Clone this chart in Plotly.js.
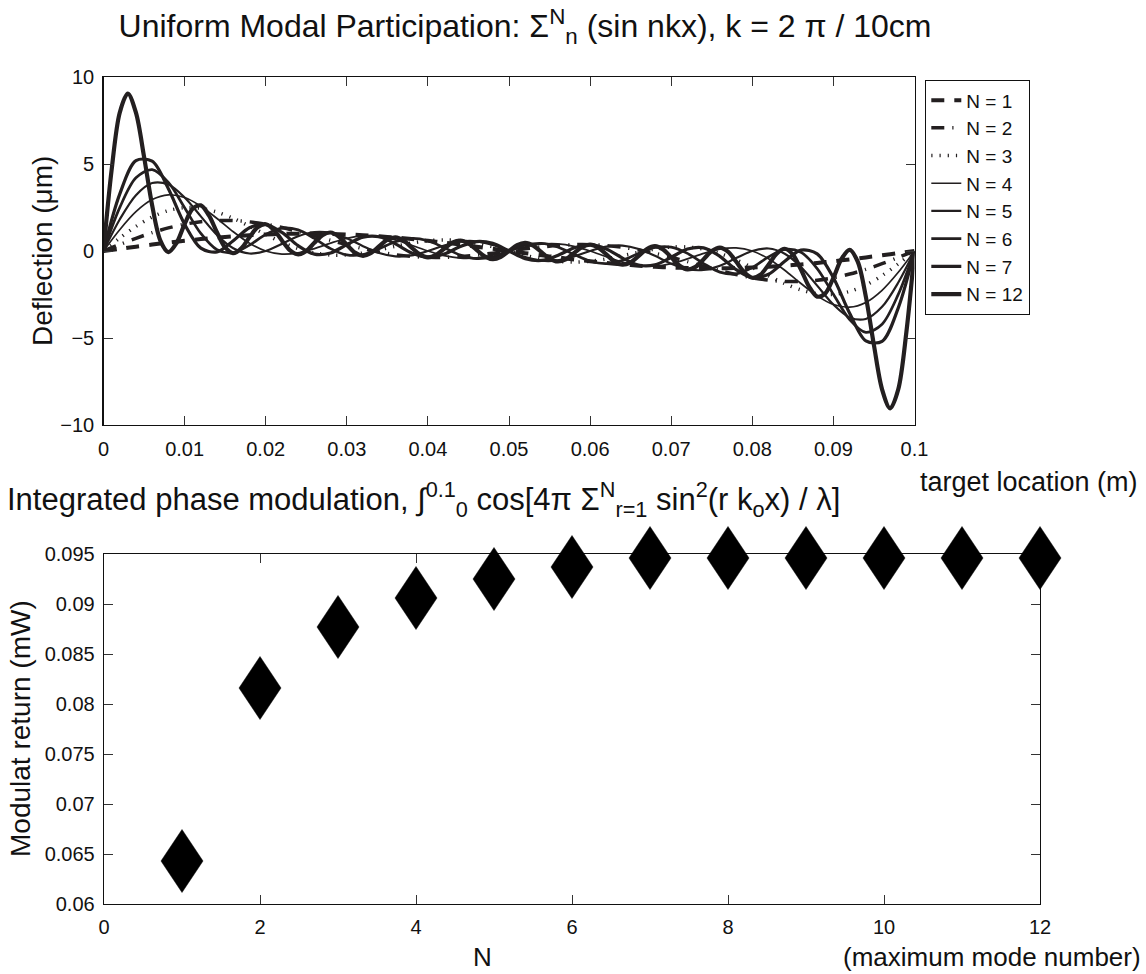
<!DOCTYPE html>
<html>
<head>
<meta charset="utf-8">
<script src="https://cdn.plot.ly/plotly-3.0.1.min.js"></script>
<style>html,body{margin:0;padding:0;background:#fff;}#chart{width:1146px;height:974px;}</style>
</head>
<body>
<div id="chart"></div>
<script>
// ---------- DATA ----------
const xFine = [0,0.001,0.002,0.003,0.004,0.005,0.006,0.007,0.008,0.009,0.01,0.011,0.012,0.013,0.014,0.015,0.016,0.017,0.018,0.019,0.02,0.021,0.022,0.023,0.024,0.025,0.026,0.027,0.028,0.029,0.03,0.031,0.032,0.033,0.034,0.035,0.036,0.037,0.038,0.039,0.04,0.041,0.042,0.043,0.044,0.045,0.046,0.047,0.048,0.049,0.05,0.051,0.052,0.053,0.054,0.055,0.056,0.057,0.058,0.059,0.06,0.061,0.062,0.063,0.064,0.065,0.066,0.067,0.068,0.069,0.07,0.071,0.072,0.073,0.074,0.075,0.076,0.077,0.078,0.079,0.08,0.081,0.082,0.083,0.084,0.085,0.086,0.087,0.088,0.089,0.09,0.091,0.092,0.093,0.094,0.095,0.096,0.097,0.098,0.099,0.1];
const xCoarse = [0,0.002,0.004,0.006,0.008,0.01,0.012,0.014,0.016,0.018,0.02,0.022,0.024,0.026,0.028,0.03,0.032,0.034,0.036,0.038,0.04,0.042,0.044,0.046,0.048,0.05,0.052,0.054,0.056,0.058,0.06,0.062,0.064,0.066,0.068,0.07,0.072,0.074,0.076,0.078,0.08,0.082,0.084,0.086,0.088,0.09,0.092,0.094,0.096,0.098,0.1];

const defN1 = [0,0.125,0.249,0.368,0.482,0.588,0.685,0.771,0.844,0.905,0.951,0.982,0.998,0.998,0.982,0.951,0.905,0.844,0.771,0.685,0.588,0.482,0.368,0.249,0.125,0,-0.125,-0.249,-0.368,-0.482,-0.588,-0.685,-0.771,-0.844,-0.905,-0.951,-0.982,-0.998,-0.998,-0.982,-0.951,-0.905,-0.844,-0.771,-0.685,-0.588,-0.482,-0.368,-0.249,-0.125,0];
const defN2 = [0,0.374,0.731,1.053,1.326,1.539,1.683,1.753,1.749,1.675,1.539,1.350,1.123,0.873,0.614,0.363,0.134,-0.061,-0.212,-0.314,-0.363,-0.363,-0.316,-0.233,-0.123,0,0.123,0.233,0.316,0.363,0.363,0.314,0.212,0.061,-0.134,-0.363,-0.614,-0.873,-1.123,-1.350,-1.539,-1.675,-1.749,-1.753,-1.683,-1.539,-1.326,-1.053,-0.731,-0.374,0];
const defN3 = [0,0.742,1.415,1.957,2.324,2.490,2.453,2.235,1.874,1.427,0.951,0.506,0.141,-0.110,-0.230,-0.225,-0.114,0.065,0.270,0.457,0.588,0.636,0.588,0.451,0.245,0,-0.245,-0.451,-0.588,-0.636,-0.588,-0.457,-0.270,-0.065,0.114,0.225,0.230,0.110,-0.141,-0.506,-0.951,-1.427,-1.874,-2.235,-2.453,-2.490,-2.324,-1.957,-1.415,-0.742,0];
const defN4 = [0,1.224,2.259,2.955,3.229,3.078,2.578,1.867,1.104,0.444,0,-0.178,-0.108,0.139,0.454,0.727,0.868,0.835,0.638,0.332,0,-0.269,-0.410,-0.393,-0.237,0,0.237,0.393,0.410,0.269,0,-0.332,-0.638,-0.835,-0.868,-0.727,-0.454,-0.139,0.108,0.178,0,-0.444,-1.104,-1.867,-2.578,-3.078,-3.229,-2.955,-2.259,-1.224,0];
const defN5 = [0,1.812,3.210,3.907,3.817,3.078,1.991,0.915,0.153,-0.144,0,0.409,0.843,1.090,1.042,0.727,0.280,-0.116,-0.313,-0.256,0,0.319,0.542,0.558,0.351,0,-0.351,-0.558,-0.542,-0.319,0,0.256,0.313,0.116,-0.280,-0.727,-1.042,-1.090,-0.843,-0.409,0,0.144,-0.153,-0.915,-1.991,-3.078,-3.817,-3.907,-3.210,-1.812,0];
const defN6 = [0,2.496,4.208,4.677,3.942,2.490,1.008,0.071,-0.096,0.338,0.951,1.314,1.212,0.722,0.137,-0.225,-0.202,0.133,0.531,0.726,0.588,0.193,-0.229,-0.440,-0.334,0,0.334,0.440,0.229,-0.193,-0.588,-0.726,-0.531,-0.133,0.202,0.225,-0.137,-0.722,-1.212,-1.314,-0.951,-0.338,0.096,-0.071,-1.008,-2.490,-3.942,-4.677,-4.208,-2.496,0];
const defN7 = [0,3.267,5.191,5.159,3.574,1.539,0.164,-0.054,0.589,1.336,1.539,1.066,0.307,-0.183,-0.111,0.363,0.796,0.817,0.406,-0.118,-0.363,-0.175,0.253,0.543,0.437,0,-0.437,-0.543,-0.253,0.175,0.363,0.118,-0.406,-0.817,-0.796,-0.363,0.111,0.183,-0.307,-1.066,-1.539,-1.336,-0.589,0.054,-0.164,-1.539,-3.574,-5.159,-5.191,-3.267,0];
const defN12 = [0,4.655,7.947,9.046,7.947,5.417,2.621,0.616,-0.063,0.454,1.539,2.433,2.621,2.046,1.063,0.203,-0.128,0.151,0.788,1.365,1.539,1.221,0.604,0.033,-0.198,0,0.470,0.912,1.063,0.835,0.363,-0.088,-0.275,-0.115,0.275,0.652,0.788,0.602,0.198,-0.196,-0.363,-0.223,0.128,0.474,0.604,0.437,0.063,-0.308,-0.470,-0.338,0,0.338,0.470,0.308,-0.063,-0.437,-0.604,-0.474,-0.128,0.223,0.363,0.196,-0.198,-0.602,-0.788,-0.652,-0.275,0.115,0.275,0.088,-0.363,-0.835,-1.063,-0.912,-0.470,0,0.198,-0.033,-0.604,-1.221,-1.539,-1.365,-0.788,-0.151,0.128,-0.203,-1.063,-2.046,-2.621,-2.433,-1.539,-0.454,0.063,-0.616,-2.621,-5.417,-7.947,-9.046,-7.947,-4.655,0];

const seriesNames = ['N = 1','N = 2','N = 3','N = 4','N = 5','N = 6','N = 7','N = 12'];

const modeN = [1,2,3,4,5,6,7,8,9,10,11,12];
const modReturn = [0.0643,0.0816,0.0877,0.0906,0.0925,0.0937,0.0946,0.0946,0.0946,0.0946,0.0946,0.0946];

const topXTickVals = [0,0.01,0.02,0.03,0.04,0.05,0.06,0.07,0.08,0.09,0.1];
const topXTickText = ['0','0.01','0.02','0.03','0.04','0.05','0.06','0.07','0.08','0.09','0.1'];
const topYTickVals = [-10,-5,0,5,10];
const topYTickText = ['\u221210','\u22125','0','5','10'];
const botXTickVals = [0,2,4,6,8,10,12];
const botXTickText = ['0','2','4','6','8','10','12'];
const botYTickVals = [0.06,0.065,0.07,0.075,0.08,0.085,0.09,0.095];
const botYTickText = ['0.06','0.065','0.07','0.075','0.08','0.085','0.09','0.095'];

// ---------- STYLE / LAYOUT ----------
const W = 1146, H = 974;
const fx = p => p / W;
const fy = p => 1 - p / H;
const INK = '#231f20';
const FONT = 'Liberation Sans, Arial, Helvetica, sans-serif';

const TOP = {l: 103.5, r: 914.5, t: 77, b: 425};
const BOT = {l: 104, r: 1040, t: 554, b: 904};
const topXRange = [0, 0.1], topYRange = [-10, 10];
const botXRange = [0, 12], botYRange = [0.06, 0.095];

const lineStyles = [
  {width: 4,   dash: '13px,10px'},
  {width: 3.5, dash: '13px,8px,1.2px,8px'},
  {width: 3.5, dash: '1.2px,7px'},
  {width: 1.7, dash: 'solid'},
  {width: 2.2, dash: 'solid'},
  {width: 2.7, dash: 'solid'},
  {width: 3.2, dash: 'solid'},
  {width: 4.2, dash: 'solid'}
];
const ys = [defN1, defN2, defN3, defN4, defN5, defN6, defN7, defN12];
const xs = [xCoarse, xCoarse, xCoarse, xCoarse, xCoarse, xCoarse, xCoarse, xFine];

const traces = ys.map((y, i) => ({
  type: 'scatter', mode: 'lines', x: xs[i], y: y, name: seriesNames[i],
  legendgroup: 'g' + i, xaxis: 'x', yaxis: 'y',
  line: {color: INK, width: lineStyles[i].width, dash: lineStyles[i].dash, shape: 'spline', smoothing: 0.9},
  hoverinfo: 'skip'
}));

// the modulated-return points on the bottom axes (hit targets; the visible
// diamonds are drawn below so they can overhang the frame like the reference)
traces.push({
  type: 'scatter', mode: 'markers', x: modeN, y: modReturn, xaxis: 'x2', yaxis: 'y2',
  marker: {symbol: 'diamond-tall', size: 1, opacity: 0, color: '#000'},
  showlegend: false, hoverinfo: 'skip', name: 'Modulat return'
});

const pxPerX = (BOT.r - BOT.l) / (botXRange[1] - botXRange[0]);
const pxPerY = (BOT.b - BOT.t) / (botYRange[1] - botYRange[0]);
const OV = {l: 50, r: 1110, t: 500, b: 960};
const ovXRange = [botXRange[0] - (BOT.l - OV.l) / pxPerX, botXRange[1] + (OV.r - BOT.r) / pxPerX];
const ovYRange = [botYRange[0] - (OV.b - BOT.b) / pxPerY, botYRange[1] + (BOT.t - OV.t) / pxPerY];
const halfW = 21 / pxPerX, halfH = 31.5 / pxPerY;
const dX = [], dY = [];
modeN.forEach((n, i) => {
  const v = modReturn[i];
  dX.push(n - halfW, n, n + halfW, n, n - halfW, null);
  dY.push(v, v + halfH, v, v - halfH, v, null);
});
traces.push({
  type: 'scatter', mode: 'lines', x: dX, y: dY, xaxis: 'x3', yaxis: 'y3',
  fill: 'toself', fillcolor: '#000', line: {color: '#000', width: 0.5},
  showlegend: false, hoverinfo: 'skip', name: 'Modulat return diamonds'
});

const axisCommon = {
  showline: true, linecolor: '#111', linewidth: 1.3, mirror: 'ticks',
  ticks: 'inside', ticklen: 9, tickwidth: 1, tickcolor: '#333',
  showgrid: false, zeroline: false, tickmode: 'array',
  tickfont: {family: FONT, size: 20, color: '#111'}, fixedrange: true
};
const hiddenAxis = {visible: false, showticklabels: false, ticks: '', showgrid: false, zeroline: false, showline: false, fixedrange: true};

const layout = {
  width: W, height: H,
  margin: {l: 0, r: 0, t: 0, b: 0},
  paper_bgcolor: '#fff', plot_bgcolor: 'rgba(0,0,0,0)',
  font: {family: FONT, color: '#111'},
  showlegend: true,
  title: {
    text: 'Uniform Modal Participation: \u03A3<sup>N</sup><sub>n</sub> (sin nkx), k = 2 \u03C0 / 10cm',
    font: {family: FONT, size: 32, color: '#111'},
    xref: 'paper', yref: 'container', x: fx(525), xanchor: 'center', y: fy(26), yanchor: 'middle'
  },
  xaxis: Object.assign({}, axisCommon, {
    domain: [fx(TOP.l), fx(TOP.r)], range: topXRange, anchor: 'y',
    tickvals: topXTickVals, ticktext: topXTickText, ticklabelstandoff: 6
  }),
  yaxis: Object.assign({}, axisCommon, {
    domain: [fy(TOP.b), fy(TOP.t)], range: topYRange, anchor: 'x',
    tickvals: topYTickVals, ticktext: topYTickText, ticklabelstandoff: 4
  }),
  xaxis2: Object.assign({}, axisCommon, {
    domain: [fx(BOT.l), fx(BOT.r)], range: botXRange, anchor: 'y2',
    tickvals: botXTickVals, ticktext: botXTickText, ticklabelstandoff: 5
  }),
  yaxis2: Object.assign({}, axisCommon, {
    domain: [fy(BOT.b), fy(BOT.t)], range: botYRange, anchor: 'x2',
    tickvals: botYTickVals, ticktext: botYTickText, ticklabelstandoff: 4
  }),
  xaxis3: Object.assign({}, hiddenAxis, {domain: [fx(OV.l), fx(OV.r)], range: ovXRange, anchor: 'y3'}),
  yaxis3: Object.assign({}, hiddenAxis, {domain: [fy(OV.b), fy(OV.t)], range: ovYRange, anchor: 'x3'}),
  legend: {
    x: fx(925), y: fy(80), xanchor: 'left', yanchor: 'top',
    bgcolor: '#fff', bordercolor: '#111', borderwidth: 1.3,
    font: {family: FONT, size: 19, color: '#111'},
    traceorder: 'normal', tracegroupgap: 0
  },
  annotations: [
    {text: 'Integrated phase modulation, \u222B<sup>0.1</sup><sub>0</sub> cos[4\u03C0 \u03A3<sup>N</sup><sub>r=1</sub> sin<sup>2</sup>(r k<sub>o</sub>x) / \u03BB]',
     xref: 'paper', yref: 'paper', x: fx(5), xanchor: 'left', y: fy(500), yanchor: 'middle',
     showarrow: false, font: {family: FONT, size: 31, color: '#111'}},
    {text: 'target location (m)', xref: 'paper', yref: 'paper', x: fx(918), xanchor: 'left',
     y: fy(482), yanchor: 'middle', showarrow: false, font: {family: FONT, size: 27, color: '#111'}},
    {text: 'Deflection (\u03BCm)', xref: 'paper', yref: 'paper', x: fx(42), xanchor: 'center',
     y: fy(251), yanchor: 'middle', textangle: -90, showarrow: false, font: {family: FONT, size: 28, color: '#111'}},
    {text: 'Modulat return (mW)', xref: 'paper', yref: 'paper', x: fx(20), xanchor: 'center',
     y: fy(729), yanchor: 'middle', textangle: -90, showarrow: false, font: {family: FONT, size: 28, color: '#111'}},
    {text: 'N', xref: 'paper', yref: 'paper', x: fx(482), xanchor: 'center',
     y: fy(957), yanchor: 'middle', showarrow: false, font: {family: FONT, size: 26, color: '#111'}},
    {text: '(maximum mode number)', xref: 'paper', yref: 'paper', x: fx(1143), xanchor: 'right',
     y: fy(957), yanchor: 'middle', showarrow: false, font: {family: FONT, size: 26, color: '#111'}}
  ]
};

Plotly.newPlot('chart', traces, layout, {displayModeBar: false, staticPlot: true});
</script>
</body>
</html>
